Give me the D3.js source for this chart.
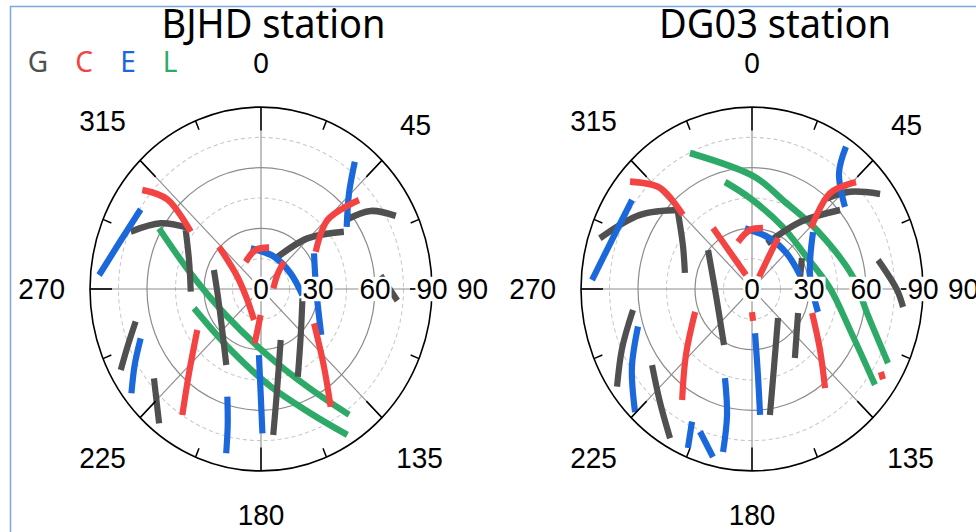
<!DOCTYPE html>
<html>
<head>
<meta charset="utf-8">
<script src="https://cdn.jsdelivr.net/npm/d3@7"></script>
<style>
  body { margin: 0; background: #fff; }
  svg { display: block; }
</style>
</head>
<body>
<svg id="chart" width="976" height="532"></svg>
<script>
// ---- data: satellite tracks as [azimuth deg, zenith deg] ----
const systems = ["G", "C", "E", "L"];
const sysColors = { G: "#505050", C: "#f34343", E: "#1b68dc", L: "#2eaa68" };
const angleTicks = [0, 45, 90, 135, 180, 225, 270, 315];
const radialTicks = [0, 30, 60, 90];

const bjhdG = [
  [[292.5, 74.2], [301.6, 62], [307.9, 49.6]],
  [[306.3, 49.2], [290.7, 40.5], [268, 37]],
  [[290.7, 26.5], [264.6, 23], [237.2, 25.3], [205.9, 41.8]],
  [[27.1, 17], [44.3, 35], [57, 52]],
  [[52.6, 56.1], [56.2, 69.4], [63, 79.6]],
  [[84, 63.3], [94.6, 72]],
  [[101.9, 22.3], [138.5, 31.5], [155.9, 47.5]],
  [[157.7, 27.3], [169.9, 49], [174.9, 72.5]],
  [[256.3, 67.9], [248.4, 75.3], [241.5, 84]],
  [[231.9, 71.6], [218.9, 85.4]]
];
const bjhdC = [
  [[308.1, 79.4], [312, 66.3], [307.5, 46.6]],
  [[313.4, 30.5], [296.2, 13.9], [233, 9], [193.6, 15.7]],
  [[180.8, 12.9], [187.1, 27.1]],
  [[329, 15.7], [351.8, 19.5], [11.7, 20.9]],
  [[86.8, 6.5], [49, 11.8], [42, 18.2]],
  [[57.4, 34.2], [45.7, 48.8], [49.5, 67.8]],
  [[121.4, 32.7], [139.2, 50.7], [147.8, 68.8]],
  [[238.8, 39.2], [222.3, 56.3], [213.6, 74.8]]
];
const bjhdE = [
  [[274.6, 85.5], [287.5, 77.8], [301.9, 74.6]],
  [[38.1, 80], [44.4, 66.2], [55.7, 54.6]],
  [[57.7, 33], [89.1, 29], [125.6, 39]],
  [[344.9, 20.8], [23.1, 17.4], [63.6, 17.4], [97.8, 22]],
  [[181.9, 32.7], [180.2, 51.6], [179.4, 71.4]],
  [[198.4, 56.1], [194.6, 69.5], [192.7, 83.3]],
  [[248.9, 67.9], [240.5, 76.4], [232.9, 85.5]]
];
const bjhdL = [
  [[299.2, 61.5], [281.8, 37.8], [232.3, 22.4], [174.2, 32.8], [153.2, 54.1], [143.3, 77.6]],
  [[254.9, 36.5], [207.9, 34.1], [173.9, 48.6], [157, 66.8], [147.8, 85.3]]
];

const dg03G = [
  [[287.4, 83.9], [301.9, 69.4], [315.9, 54.4]],
  [[314.3, 54.5], [300.9, 42.4], [282.7, 36.2]],
  [[309.8, 30.1], [261, 19.2], [208, 31.4]],
  [[19.3, 23.9], [37.4, 41.7], [49.9, 60.6]],
  [[41.4, 59.8], [47, 70.5], [55.1, 82.2]],
  [[77.8, 67.9], [90.3, 76.3], [96.4, 80]],
  [[59.8, 30.4], [76.8, 26]],
  [[136.3, 19.8], [163.3, 40.3], [171.4, 63]],
  [[116.1, 27], [146.5, 40.9]],
  [[260.6, 63.5], [246.9, 74.3], [235.8, 85.9]],
  [[234.4, 64.7], [220.9, 74], [210.3, 85.5]]
];
const dg03C = [
  [[309.6, 83.3], [315.9, 69.6], [315.2, 51.6]],
  [[325.8, 36.5], [327.6, 21.7], [335.6, 7.6]],
  [[342.4, 24.4], [357.9, 29.2], [10.8, 30.7]],
  [[31.8, 7], [28.9, 17.5], [28.5, 28.7]],
  [[45.8, 43.3], [40.9, 62.7], [46, 76.1]],
  [[110.6, 33.8], [130.1, 46.8], [141.9, 62.3]],
  [[121.2, 79.3], [122.9, 82.1]],
  [[249.3, 32], [226.8, 47.7], [213.8, 66.1]],
  [[180, 11.4], [178, 15.8]]
];
const dg03E = [
  [[273, 84.3], [288.2, 77.6], [304.9, 77]],
  [[35.1, 86], [38.6, 73.4], [50.3, 63.6]],
  [[48.8, 42.7], [77.2, 31.3], [108.1, 36.5]],
  [[353, 30.2], [20.6, 26.8], [46, 25.4], [74.7, 26.2]],
  [[175.8, 21.9], [175.8, 42.7], [176.1, 62.4]],
  [[252.8, 62.8], [238.3, 74.3], [225.3, 86.6]],
  [[197.9, 46.3], [191.9, 63.7], [190.7, 82.1]],
  [[205.7, 72.8], [203.2, 85.6]],
  [[201.2, 75.7], [193.9, 85.6]]
];
const dg03L = [
  [[334.1, 74.8], [1.7, 55.4], [20.3, 46.9], [49.5, 44.9], [83.6, 53.5], [101.1, 61.7], [117.1, 80.4]],
  [[345, 54.8], [358.6, 45], [27.9, 34.7], [58.9, 32.6], [89.4, 41], [111.4, 55.4], [126.2, 80.2]]
];

// ---- layout ----
const R = 171;          // outer radius (px)
const stretchY = 1.064; // picture is slightly taller than wide
const cy = 289 / stretchY;
const numFont = "'Liberation Sans', Arial, sans-serif";
const textFont = "'Noto Sans', 'Open Sans', sans-serif";

const svg = d3.select("#chart");

// thin blue frame (top + left edges)
svg.append("path")
  .attr("d", "M10.5,532 V6.5 H976")
  .attr("fill", "none")
  .attr("stroke", "#7ba7dc")
  .attr("stroke-width", 1.5);

const root = svg.append("g").attr("transform", `scale(1,${stretchY})`);

// legend G C E L
root.selectAll(".legend")
  .data(systems)
  .enter()
  .append("text")
  .attr("class", "legend")
  .attr("x", (d, i) => [38, 84, 128, 170][i])
  .attr("y", 57)
  .attr("text-anchor", "middle")
  .attr("dominant-baseline", "central")
  .attr("font-family", textFont)
  .attr("font-size", 28)
  .attr("fill", d => sysColors[d])
  .text(d => d);

const rScale = d3.scaleLinear().domain([0, 90]).range([0, R]);
const toXY = ([az, zen]) => {
  const a = az * Math.PI / 180;
  const r = rScale(zen);
  return [r * Math.sin(a), -r * Math.cos(a)];
};
const trackLine = d3.line()
  .x(d => toXY(d)[0])
  .y(d => toXY(d)[1])
  .curve(d3.curveCatmullRom.alpha(0.5));

const drawSky = (cx, title, titleX, tracks) => {
  const g = root.append("g").attr("transform", `translate(${cx},${cy})`);

  // 1) dashed rings
  g.selectAll(".ring-dash")
    .data([15, 45, 75])
    .enter()
    .append("circle")
    .attr("r", d => rScale(d))
    .attr("fill", "none")
    .attr("stroke", "#c8c8c8")
    .attr("stroke-dasharray", "4 3")
    .attr("stroke-width", 1);

  // 2) solid rings
  g.selectAll(".ring")
    .data([30, 60])
    .enter()
    .append("circle")
    .attr("r", d => rScale(d))
    .attr("fill", "none")
    .attr("stroke", "#8c8c8c")
    .attr("stroke-width", 1.2);

  // 3) spokes
  g.selectAll(".spoke")
    .data(angleTicks)
    .enter()
    .append("line")
    .attr("x1", 0).attr("y1", 0)
    .attr("x2", d => toXY([d, 90])[0])
    .attr("y2", d => toXY([d, 90])[1])
    .attr("stroke", "#8c8c8c")
    .attr("stroke-width", 1.1);

  // 4) tracks, green at the bottom, red on top
  ["L", "G", "E", "C"].forEach(sys => {
    g.selectAll(".trk-" + sys)
      .data(tracks[sys])
      .enter()
      .append("path")
      .attr("class", "trk-" + sys)
      .attr("d", trackLine)
      .attr("fill", "none")
      .attr("stroke", sysColors[sys])
      .attr("stroke-width", 6.2)
      .attr("stroke-linecap", "butt");
  });

  // 5) outer circle + ticks
  g.append("circle")
    .attr("r", R)
    .attr("fill", "none")
    .attr("stroke", "#000")
    .attr("stroke-width", 1.6);

  const ticks = d3.range(0, 360, 22.5);
  g.selectAll(".tick")
    .data(ticks)
    .enter()
    .append("line")
    .attr("x1", d => toXY([d, 90])[0])
    .attr("y1", d => toXY([d, 90])[1])
    .attr("x2", d => toXY([d, 90 - (d % 45 === 0 ? 22 : 9) * 90 / R])[0])
    .attr("y2", d => toXY([d, 90 - (d % 45 === 0 ? 22 : 9) * 90 / R])[1])
    .attr("stroke", "#000")
    .attr("stroke-width", 1.5);

  // 6) radial labels with white box
  const rl = g.selectAll(".rlab")
    .data(radialTicks)
    .enter()
    .append("g")
    .attr("transform", d => `translate(${rScale(d)},0)`);
  const rlText = rl.append("text")
    .attr("text-anchor", "middle")
    .attr("dominant-baseline", "central")
    .attr("font-family", numFont)
    .attr("font-size", 28)
    .text(d => d);
  rlText.each(function () {
    const b = this.getBBox();
    d3.select(this.parentNode).insert("rect", "text")
      .attr("x", b.x - 1).attr("y", b.y + 4)
      .attr("width", b.width + 2).attr("height", b.height - 8)
      .attr("fill", "#fff");
  });

  // 7) angle labels around the circle
  g.selectAll(".alab")
    .data(angleTicks)
    .enter()
    .append("text")
    .attr("text-anchor", "middle")
    .attr("dominant-baseline", "central")
    .attr("font-family", numFont)
    .attr("font-size", 28)
    .text(d => d)
    .each(function (d) {
      const w = this.getComputedTextLength();
      const a = d * Math.PI / 180;
      const r = 196 + (w / 2) * Math.abs(Math.sin(a)) + 16.5 * Math.abs(Math.cos(a));
      d3.select(this)
        .attr("x", r * Math.sin(a))
        .attr("y", -r * Math.cos(a));
    });

  // 8) title
  root.append("text")
    .attr("x", titleX)
    .attr("y", 35.7)
    .attr("text-anchor", "middle")
    .attr("font-family", textFont)
    .attr("font-size", 38)
    .text(title);
};

drawSky(261, "BJHD station", 273.5, { G: bjhdG, C: bjhdC, E: bjhdE, L: bjhdL });
drawSky(752, "DG03 station", 775, { G: dg03G, C: dg03C, E: dg03E, L: dg03L });
</script>
</body>
</html>
